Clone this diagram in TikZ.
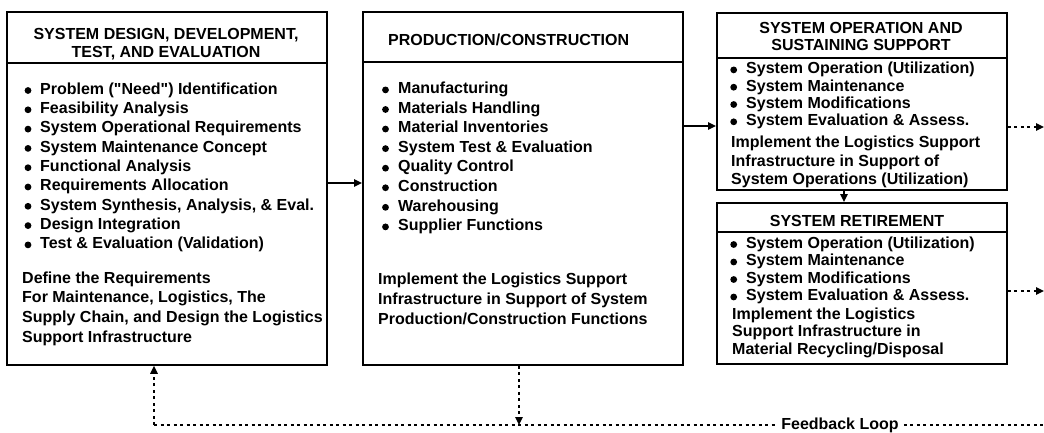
\documentclass[tikz,border=0pt]{standalone}
\usepackage{fontspec}
\setmainfont{Liberation Sans}
\usetikzlibrary{arrows.meta}
\begin{document}
\begin{tikzpicture}[x=1pt,y=-1pt,
  box/.style={draw, line width=1.8pt, anchor=north west, inner sep=0pt},
  sep/.style={line width=1.2pt},
  txt/.style={inner sep=0pt, font=\fontsize{16}{18}\selectfont\bfseries},
  bul/.style={fill=black},
  arr/.style={line width=1.3pt, -{Triangle[length=8pt,width=7.5pt]}},
  darr/.style={line width=1.5pt, dash pattern=on 3pt off 3.5pt, -{Triangle[length=8pt,width=7.5pt]}},
  dline/.style={line width=1.5pt, dash pattern=on 3pt off 3.5pt}]
\useasboundingbox (0,0) rectangle (1044,432);
% boxes
\node[box, minimum width=320pt, minimum height=353pt] (b1) at (6,11) {};
\node[box, minimum width=320pt, minimum height=353pt] (b2) at (362,11) {};
\node[box, minimum width=290pt, minimum height=177pt] (b3) at (716,12) {};
\node[box, minimum width=290pt, minimum height=161pt] (b4) at (716,202) {};
\draw[sep] (6,63) -- (326,63);
\draw[sep] (362,62) -- (682,62);
\draw[sep] (716,58) -- (1006,58);
\draw[sep] (716,232) -- (1006,232);
% headers
\node[txt, anchor=base] (h1a) at (166,39) {SYSTEM DESIGN, DEVELOPMENT,};
\node[txt, anchor=base] (h1b) at (166,57.5) {TEST, AND EVALUATION};
\node[txt, anchor=base west] (h2) at (388,45.6) {PRODUCTION/CONSTRUCTION};
\node[txt, anchor=base] (h3a) at (861,33) {SYSTEM OPERATION AND};
\node[txt, anchor=base] (h3b) at (861,50.6) {SUSTAINING SUPPORT};
\node[txt, anchor=base] (h4) at (857,226.3) {SYSTEM RETIREMENT};
% box 1 bullets
\foreach \t [count=\i from 0] in {{Problem (\textquotedbl Need\textquotedbl) Identification},{Feasibility Analysis},{System Operational Requirements},{System Maintenance Concept},{Functional Analysis},{Requirements Allocation},{System Synthesis, Analysis, \& Eval.},{Design Integration},{Test \& Evaluation (Validation)}}{
  \node[txt, anchor=base west] (l1-\i) at (40,94.3+19.3*\i) {\t};
  \fill[bul] (28,94.3+19.3*\i-3.8) circle (3.4pt);}
\foreach \t [count=\i from 0] in {{Define the Requirements},{For Maintenance, Logistics, The},{Supply Chain, and Design the Logistics},{Support Infrastructure}}
  \node[txt, anchor=base west] (p1-\i) at (22,283+19.7*\i) {\t};
% box 2
\foreach \t [count=\i from 0] in {{Manufacturing},{Materials Handling},{Material Inventories},{System Test \& Evaluation},{Quality Control},{Construction},{Warehousing},{Supplier Functions}}{
  \node[txt, anchor=base west] (l2-\i) at (398,93.7+19.57*\i) {\t};
  \fill[bul] (385.5,93.7+19.57*\i-3.8) circle (3.4pt);}
\foreach \t [count=\i from 0] in {{Implement the Logistics Support},{Infrastructure in Support of System},{Production/Construction Functions}}
  \node[txt, anchor=base west] (p2-\i) at (378,284+20.3*\i) {\t};
% box 3
\foreach \t [count=\i from 0] in {{System Operation (Utilization)},{System Maintenance},{System Modifications},{System Evaluation \& Assess.}}{
  \node[txt, anchor=base west] (l3-\i) at (746,73.7+17.3*\i) {\t};
  \fill[bul] (733.7,73.7+17.3*\i-3.8) circle (3.4pt);}
\foreach \t [count=\i from 0] in {{Implement the Logistics Support},{Infrastructure in Support of},{System Operations (Utilization)}}
  \node[txt, anchor=base west] (p3-\i) at (731,147.7+18.5*\i) {\t};
% box 4
\foreach \t [count=\i from 0] in {{System Operation (Utilization)},{System Maintenance},{System Modifications},{System Evaluation \& Assess.}}{
  \node[txt, anchor=base west] (l4-\i) at (746,248.3+17.5*\i) {\t};
  \fill[bul] (733.7,248.3+17.5*\i-3.8) circle (3.4pt);}
\foreach \t [count=\i from 0] in {{Implement the Logistics},{Support Infrastructure in},{Material Recycling/Disposal}}
  \node[txt, anchor=base west] (p4-\i) at (732,319+17.7*\i) {\t};
% connectors
\draw[arr] (b1.east |- 0,183) -- (b2.west |- 0,183);
\draw[arr] (b2.east |- 0,126) -- (b3.west |- 0,126);
\draw[arr] (b3.south -| 844,0) -- (b4.north -| 844,0);
\coordinate (o3) at (1044,127);
\coordinate (o4) at (1044,291);
\draw[darr] (b3.east |- o3) -- (o3);
\draw[darr] (b4.east |- o4) -- (o4);
\coordinate (fbL) at (154,425);
\coordinate (fbM) at (519,425);
\coordinate (fbR) at (1044,425);
\node[txt, fill=white, inner xsep=5pt] (fb) at (840,425) {Feedback Loop};
\draw[dline] (fbL) -- (fb.west);
\draw[dline] (fb.east) -- (fbR);
\draw[darr] (b2.south -| fbM) -- (fbM);
\draw[darr] (fbL) -- (b1.south -| fbL);
\end{tikzpicture}
\end{document}
